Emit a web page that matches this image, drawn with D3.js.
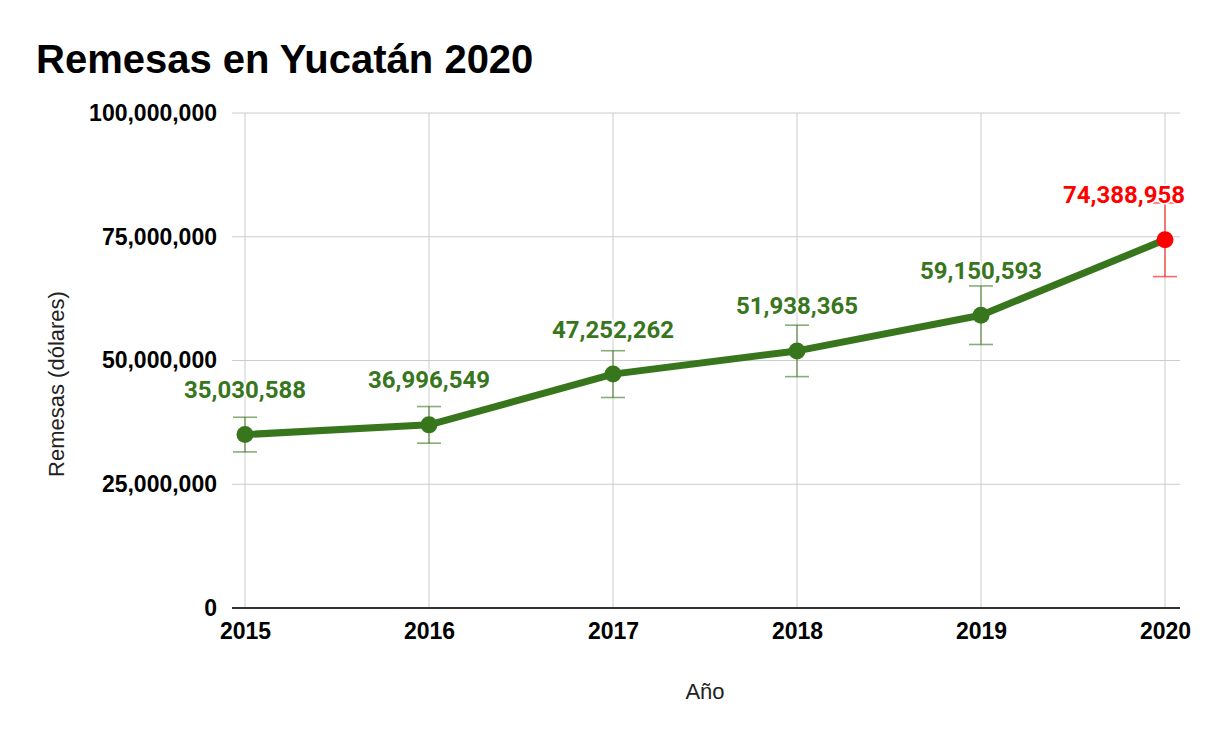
<!DOCTYPE html>
<html><head><meta charset="utf-8">
<script src="https://cdn.jsdelivr.net/npm/d3@7"></script>
<style>body{margin:0;background:#fff}</style>
</head><body>
<svg id="c" width="1214" height="742"></svg>
<script>
const years = ["2015","2016","2017","2018","2019","2020"];
const remesas = [35030588, 36996549, 47252262, 51938365, 59150593, 74388958];
const errorPct = [0.1, 0.1, 0.1, 0.1, 0.1, 0.1];
const yTicks = [0, 25000000, 50000000, 75000000, 100000000];
const highlightYear = "2020";

(function(){
const svg = d3.select("#c");
const pL = 232, pR = 1180, pT = 113, pB = 608;
const x = d3.scalePoint().domain(years).range([245, 1165]);
const y = d3.scaleLinear().domain([0, 100000000]).range([pB, pT]);
const fmt = d3.format(",");
const green = "#38761d", red = "#ff0000";
const arial = "Liberation Sans, Arial, sans-serif";

svg.append("text").attr("x", 36).attr("y", 73).text("Remesas en Yucatán 2020")
  .attr("font-family", arial).attr("font-weight", "bold")
  .attr("font-size", 40).attr("fill", "#000");

svg.append("g").selectAll("line").data(yTicks.filter(d => d > 0)).join("line")
  .attr("x1", pL).attr("x2", pR).attr("y1", d => y(d)).attr("y2", d => y(d))
  .attr("stroke", "#cccccc").attr("stroke-width", 1);
svg.append("g").selectAll("line").data(years).join("line")
  .attr("x1", d => x(d)).attr("x2", d => x(d)).attr("y1", pT).attr("y2", pB)
  .attr("stroke", "#cccccc").attr("stroke-width", 1);

const yAxis = d3.axisLeft(y).tickValues(yTicks).tickFormat(fmt).tickSize(0).tickPadding(15);
const gy = svg.append("g").attr("transform", `translate(${pL},0)`).call(yAxis);
gy.select(".domain").remove();
gy.selectAll("text").attr("font-family", arial)
  .attr("font-weight", "bold").attr("font-size", 23).attr("fill", "#000");

const xAxis = d3.axisBottom(x).tickSize(0).tickPadding(15);
const gx = svg.append("g").attr("transform", `translate(0,${pB})`).call(xAxis);
gx.select(".domain").remove();
gx.selectAll("text").attr("font-family", arial)
  .attr("font-weight", "bold").attr("font-size", 23).attr("fill", "#000");
svg.append("line").attr("x1", pL).attr("x2", pR).attr("y1", pB).attr("y2", pB)
  .attr("stroke", "#333333").attr("stroke-width", 2);

svg.append("text").attr("x", 705).attr("y", 699).attr("text-anchor", "middle").text("Año")
  .attr("font-family", arial).attr("font-size", 22).attr("fill", "#222");
svg.append("text").attr("transform", "translate(64,384) rotate(-90)").attr("text-anchor", "middle")
  .text("Remesas (dólares)")
  .attr("font-family", arial).attr("font-size", 22).attr("fill", "#222");

const data = years.map((yr, i) => ({yr, v: remesas[i], e: remesas[i] * errorPct[i]}));
const col = d => d.yr === highlightYear ? red : green;

const eb = svg.append("g").selectAll("g").data(data).join("g")
  .attr("stroke", d => col(d)).attr("stroke-opacity", 0.6).attr("stroke-width", 1.6);
eb.append("line").attr("x1", d => x(d.yr)).attr("x2", d => x(d.yr))
  .attr("y1", d => y(d.v + d.e)).attr("y2", d => y(d.v - d.e));
eb.append("line").attr("x1", d => x(d.yr) - 12).attr("x2", d => x(d.yr) + 12)
  .attr("y1", d => y(d.v + d.e)).attr("y2", d => y(d.v + d.e));
eb.append("line").attr("x1", d => x(d.yr) - 12).attr("x2", d => x(d.yr) + 12)
  .attr("y1", d => y(d.v - d.e)).attr("y2", d => y(d.v - d.e));

svg.append("path").datum(data)
  .attr("d", d3.line().x(d => x(d.yr)).y(d => y(d.v)))
  .attr("fill", "none").attr("stroke", green).attr("stroke-width", 7).attr("stroke-linejoin", "round");

svg.append("g").selectAll("circle").data(data).join("circle")
  .attr("cx", d => x(d.yr)).attr("cy", d => y(d.v)).attr("r", 8.5).attr("fill", d => col(d));

const labels = svg.append("g").selectAll("text").data(data).join("text")
  .attr("x", d => x(d.yr)).attr("y", d => y(d.v) - 36.5)
  .attr("text-anchor", "middle").text(d => fmt(d.v))
  .attr("font-family", "Roboto, sans-serif").attr("font-weight", "bold").attr("font-size", 24)
  .attr("fill", d => col(d))
  .attr("stroke", "#fff").attr("stroke-width", 3).attr("paint-order", "stroke");
labels.each(function(d){
  const w = this.getComputedTextLength();
  const cx = Math.min(x(d.yr), 1185 - w / 2);
  d3.select(this).attr("x", cx);
});
})();
</script>
</body></html>
